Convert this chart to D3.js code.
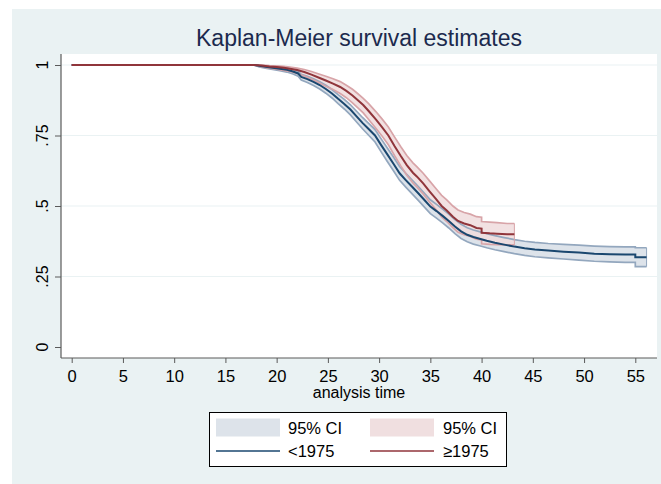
<!DOCTYPE html>
<html>
<head>
<meta charset="utf-8">
<script src="https://cdn.jsdelivr.net/npm/d3@7"></script>
<style>
  body { margin: 0; background: #ffffff; }
  svg text { font-family: "Liberation Sans", Arial, Helvetica, sans-serif; }
</style>
</head>
<body>
<div id="chart-container"></div>
<script>
// <1975 group: time, KM estimate, 95% CI lower / upper
const timeA = [0, 17.8, 18.3, 18.9, 19.6, 20.3, 21.0, 21.6, 22.1, 22.4, 23.0, 23.6, 24.2, 24.8, 25.4, 26.0, 26.6, 27.2, 27.8, 28.4, 29.0, 29.6, 30.2, 30.8, 31.4, 32.0, 32.6, 33.2, 33.8, 34.4, 35.0, 35.6, 36.2, 36.8, 37.4, 38.0, 38.6, 39.2, 39.8, 40.5, 41.3, 42.2, 43.2, 44.2, 45.2, 46.5, 48.0, 49.5, 51.0, 52.5, 54.0, 55.0, 55.0, 56.1]
const survA = [1, 1, .997, .994, .990, .987, .983, .977, .970, .958, .950, .940, .929, .915, .899, .880, .862, .842, .818, .794, .772, .750, .716, .683, .650, .616, .592, .569, .546, .522, .498, .482, .465, .447, .427, .410, .398, .390, .384, .377, .370, .363, .356, .350, .346, .342, .338, .335, .331, .329, .328, .328, .318, .318]
const loA = [1, 1, .993, .989, .984, .980, .975, .968, .960, .947, .938, .927, .915, .900, .883, .863, .844, .823, .798, .773, .750, .727, .692, .658, .625, .591, .567, .544, .521, .497, .473, .457, .440, .422, .402, .385, .373, .365, .359, .352, .345, .338, .331, .325, .320, .316, .312, .308, .304, .302, .300, .300, .285, .285]
const hiA = [1, 1, .999, .997, .994, .992, .989, .984, .978, .967, .960, .951, .941, .928, .913, .895, .878, .859, .836, .813, .792, .771, .738, .706, .674, .640, .616, .593, .570, .546, .522, .506, .489, .471, .452, .435, .423, .415, .409, .402, .395, .388, .381, .375, .371, .367, .364, .361, .358, .356, .355, .355, .352, .352]

// >=1975 group
const timeB = [0, 17.8, 18.5, 19.3, 20.0, 20.7, 21.3, 22.0, 22.7, 23.4, 24.2, 24.8, 25.5, 26.2, 26.8, 27.4, 27.9, 28.45, 29.0, 29.7, 30.3, 30.9, 31.5, 32.1, 32.7, 33.3, 33.7, 34.3, 34.9, 35.5, 36.1, 36.6, 37.2, 37.7, 38.3, 38.9, 39.5, 40.0, 40.0, 40.8, 41.5, 42.5, 43.2]
const survB = [1, 1, .998, .995, .993, .990, .987, .982, .975, .966, .954, .945, .934, .922, .908, .892, .876, .858, .836, .806, .779, .750, .713, .678, .645, .618, .604, .580, .553, .527, .500, .484, .462, .447, .438, .432, .422, .420, .405, .403, .402, .400, .400]
const loB = [1, 1, .994, .989, .985, .981, .977, .970, .961, .950, .936, .925, .913, .899, .884, .866, .849, .830, .806, .775, .747, .717, .679, .643, .609, .582, .567, .543, .515, .489, .461, .445, .423, .407, .398, .392, .382, .380, .366, .364, .363, .362, .362]
const hiB = [1, 1, 1, .998, .997, .995, .993, .989, .984, .977, .967, .960, .951, .941, .928, .914, .899, .882, .862, .834, .808, .780, .745, .711, .679, .653, .639, .616, .590, .564, .538, .522, .500, .486, .477, .471, .462, .460, .445, .443, .441, .438, .438]

const xTicks = [0, 5, 10, 15, 20, 25, 30, 35, 40, 45, 50, 55]
const yTicks = [0, .25, .5, .75, 1]
const yTickLabels = ["0", ".25", ".5", ".75", "1"]
const legendLabels = ["95% CI", "95% CI", "<1975", "\u22651975"]

const W = 661, H = 484
const plot = {left: 61, top: 54, right: 657, bottom: 358}

const x = d3.scaleLinear().domain([0, 55]).range([71.7, 635.3])
const y = d3.scaleLinear().domain([0, 1]).range([347, 65])

const svg = d3.select("#chart-container")
    .append("svg")
        .attr("width", W)
        .attr("height", H)

// outer panel
svg.append("rect")
    .attr("x", 12).attr("y", 9)
    .attr("width", W - 12).attr("height", H - 9)
    .attr("fill", "#eaf2f3")

svg.append("rect")
    .attr("x", plot.left).attr("y", plot.top)
    .attr("width", plot.right - plot.left).attr("height", plot.bottom - plot.top)
    .attr("fill", "#ffffff")

// grid
svg.append("g")
    .selectAll("line")
    .data(yTicks.filter(d => d > 0))
    .join("line")
        .attr("x1", plot.left).attr("x2", plot.right)
        .attr("y1", d => y(d)).attr("y2", d => y(d))
        .attr("stroke", "#eaf2f3")
        .attr("stroke-width", 1.2)

const rowsA = timeA.map((t, i) => ({t, s: survA[i], lo: loA[i], hi: hiA[i]}))
const rowsB = timeB.map((t, i) => ({t, s: survB[i], lo: loB[i], hi: hiB[i]}))

const area = d3.area()
    .x(d => x(d.t))
    .y0(d => y(d.lo))
    .y1(d => y(d.hi))

const lineOf = key => d3.line()
    .x(d => x(d.t))
    .y(d => y(d[key]))

// CI bands
svg.append("path")
    .datum(rowsA)
    .attr("fill", "#dde3ea")
    .attr("d", area)

svg.append("path")
    .datum(rowsB)
    .attr("fill", "#f0dcdd")
    .attr("fill-opacity", 0.85)
    .attr("d", area)

;[["lo", rowsA, "#93a7be"], ["hi", rowsA, "#93a7be"], ["lo", rowsB, "#d8a4a8"], ["hi", rowsB, "#d8a4a8"]]
    .forEach(([key, rows, col]) => {
        svg.append("path")
            .datum(rows)
            .attr("fill", "none")
            .attr("stroke", col)
            .attr("stroke-width", 1.7)
            .attr("d", lineOf(key))
    })

// end caps of the bands
;[[rowsA, "#93a7be"], [rowsB, "#d8a4a8"]].forEach(([rows, col]) => {
    const last = rows[rows.length - 1]
    svg.append("line")
        .attr("x1", x(last.t)).attr("x2", x(last.t))
        .attr("y1", y(last.lo)).attr("y2", y(last.hi))
        .attr("stroke", col).attr("stroke-width", 1)
})

// survival curves
svg.append("path")
    .datum(rowsA)
    .attr("fill", "none")
    .attr("stroke", "#1a476f")
    .attr("stroke-width", 2)
    .attr("d", lineOf("s"))

svg.append("path")
    .datum(rowsB)
    .attr("fill", "none")
    .attr("stroke", "#90353b")
    .attr("stroke-width", 2)
    .attr("d", lineOf("s"))

// axes
const axisColor = "#5a5a5a"
svg.append("line")
    .attr("x1", plot.left).attr("x2", plot.left)
    .attr("y1", plot.top).attr("y2", plot.bottom)
    .attr("stroke", axisColor).attr("stroke-width", 1.2)
svg.append("line")
    .attr("x1", plot.left).attr("x2", plot.right)
    .attr("y1", plot.bottom).attr("y2", plot.bottom)
    .attr("stroke", axisColor).attr("stroke-width", 1.2)

const xAxis = svg.append("g")
    .attr("transform", `translate(0, ${plot.bottom})`)
    .call(d3.axisBottom(x).tickValues(xTicks).tickSize(5).tickPadding(7).tickFormat(d3.format("d")))
xAxis.select(".domain").remove()
xAxis.selectAll("line").attr("stroke", axisColor)
xAxis.selectAll("text").attr("font-size", 16.5).attr("fill", "#000").attr("font-family", "Liberation Sans, Arial, sans-serif")

const yAxis = svg.append("g")
    .attr("transform", `translate(${plot.left}, 0)`)
    .call(d3.axisLeft(y).tickValues(yTicks).tickSize(6).tickFormat(""))
yAxis.select(".domain").remove()
yAxis.selectAll("line").attr("stroke", axisColor)

svg.append("g")
    .selectAll("text")
    .data(yTicks)
    .join("text")
        .attr("transform", d => `translate(47.5, ${y(d)}) rotate(-90)`)
        .attr("text-anchor", "middle")
        .attr("font-size", 16)
        .attr("fill", "#000")
        .text((d, i) => yTickLabels[i])

svg.append("text")
    .attr("x", (plot.left + plot.right) / 2)
    .attr("y", 398)
    .attr("text-anchor", "middle")
    .attr("font-size", 16)
    .attr("fill", "#000")
    .text("analysis time")

svg.append("text")
    .attr("x", (plot.left + plot.right) / 2)
    .attr("y", 46)
    .attr("text-anchor", "middle")
    .attr("font-size", 23)
    .attr("fill", "#1c2a4e")
    .text("Kaplan-Meier survival estimates")

// legend
svg.append("rect")
    .attr("x", 209.5).attr("y", 412.5)
    .attr("width", 297).attr("height", 54)
    .attr("fill", "#ffffff")
    .attr("stroke", "#000")
    .attr("stroke-width", 1)

const legendItems = [
    {col: 0, row: 0, kind: "area", color: "#dde3ea"},
    {col: 1, row: 0, kind: "area", color: "#f0dfe0"},
    {col: 0, row: 1, kind: "line", color: "#1a476f"},
    {col: 1, row: 1, kind: "line", color: "#90353b"}
]
legendItems.forEach((d, i) => {
    const gx = 216 + d.col * 154
    const gy = d.row === 0 ? 427.5 : 451
    if (d.kind === "area") {
        svg.append("rect")
            .attr("x", gx).attr("y", gy - 9)
            .attr("width", 64).attr("height", 18)
            .attr("fill", d.color)
    } else {
        svg.append("line")
            .attr("x1", gx).attr("x2", gx + 64)
            .attr("y1", gy).attr("y2", gy)
            .attr("stroke", d.color).attr("stroke-width", 1.5)
    }
    svg.append("text")
        .attr("x", gx + 72 + d.col * 1)
        .attr("y", gy + 6)
        .attr("font-size", 16.5)
        .attr("fill", "#000")
        .text(legendLabels[i])
})
</script>
</body>
</html>
